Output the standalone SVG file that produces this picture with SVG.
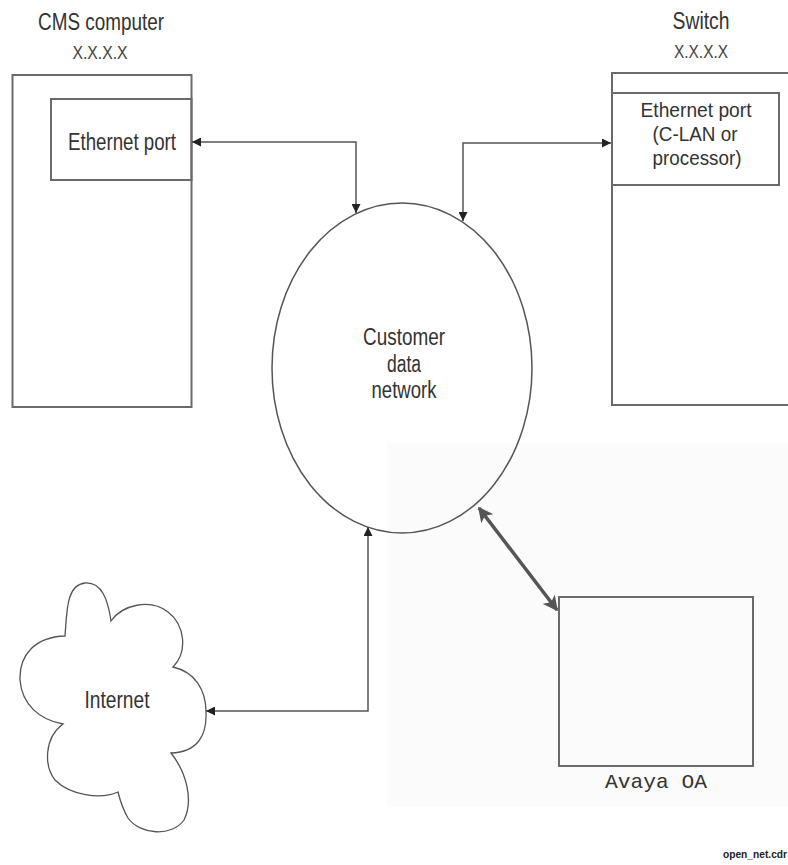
<svg xmlns="http://www.w3.org/2000/svg" width="788" height="865" viewBox="0 0 788 865">
  <style>
    .lbl { font-family: "Liberation Sans", Arial, sans-serif; font-size: 23px; fill: #333; text-anchor: middle; }
    .port { font-family: "Liberation Sans", Arial, sans-serif; font-size: 20.5px; fill: #333; text-anchor: middle; }
    .addr { font-family: "Liberation Sans", Arial, sans-serif; font-size: 19px; fill: #444; text-anchor: middle; }
    .mono { font-family: "Liberation Mono", "Courier New", monospace; font-size: 21px; fill: #333; text-anchor: middle; }
    .tag { font-family: "Liberation Sans", Arial, sans-serif; font-size: 10px; font-weight: bold; fill: #222; }
    .box { fill: none; stroke: #6a6a6a; stroke-width: 2; }
    .wire { fill: none; stroke: #555; stroke-width: 1.5; }
    .thick { fill: none; stroke: #555; stroke-width: 3.5; }
  </style>
  <defs>
    <marker id="ah" viewBox="0 0 10 10" refX="10" refY="5" markerWidth="11" markerHeight="9" markerUnits="userSpaceOnUse" orient="auto-start-reverse">
      <path d="M0,0 L10,5 L0,10 z" fill="#222"/>
    </marker>
    <marker id="ahBig" viewBox="0 0 10 10" refX="9" refY="5" markerWidth="17" markerHeight="15" markerUnits="userSpaceOnUse" orient="auto-start-reverse">
      <path d="M0,0 L10,5 L0,10 L2.5,5 z" fill="#555"/>
    </marker>
  </defs>

  <rect width="788" height="865" fill="#fff"/>
  <!-- faint shaded panel behind the lower right -->
  <rect x="387" y="443" width="401" height="364" fill="#fbfbfb"/>

  <g id="cms">
    <text class="lbl" x="101" y="30" textLength="126" lengthAdjust="spacingAndGlyphs">CMS computer</text>
    <text class="addr" x="100" y="59" textLength="55" lengthAdjust="spacingAndGlyphs">X.X.X.X</text>
    <rect class="box" x="12.5" y="75" width="179" height="332"/>
    <g id="cms-port">
      <rect class="box" x="51" y="99" width="140.5" height="81"/>
      <text class="lbl" x="122" y="150" textLength="108" lengthAdjust="spacingAndGlyphs">Ethernet port</text>
    </g>
  </g>

  <g id="switch">
    <text class="lbl" x="701" y="29" textLength="57" lengthAdjust="spacingAndGlyphs">Switch</text>
    <text class="addr" x="701" y="58" textLength="54" lengthAdjust="spacingAndGlyphs">X.X.X.X</text>
    <path class="box" d="M790,73 H612 V405 H790"/>
    <g id="switch-port">
      <rect class="box" x="612" y="93" width="167" height="92"/>
      <text class="port" x="696" y="117" textLength="111" lengthAdjust="spacingAndGlyphs">Ethernet port</text>
      <text class="port" x="695" y="141" textLength="85" lengthAdjust="spacingAndGlyphs">(C-LAN or</text>
      <text class="port" x="697" y="165" textLength="89" lengthAdjust="spacingAndGlyphs">processor)</text>
    </g>
  </g>

  <g id="network">
    <ellipse cx="402" cy="368" rx="130" ry="165" fill="none" stroke="#555" stroke-width="1.5"/>
    <text class="lbl" x="404" y="345" textLength="82" lengthAdjust="spacingAndGlyphs">Customer</text>
    <text class="lbl" x="404" y="372" textLength="34" lengthAdjust="spacingAndGlyphs">data</text>
    <text class="lbl" x="404" y="398" textLength="65" lengthAdjust="spacingAndGlyphs">network</text>
  </g>

  <g id="internet">
    <path fill="#fff" stroke="#555" stroke-width="1.3" d="M65,636 C67,612 66,585 85,583 C102,582 108,600 111,621 C122,605 150,598 168,612 C185,625 188,652 173,667 C195,672 206,690 206,712 C207,735 198,752 171,753 C186,772 194,800 184,820 C172,837 140,835 128,818 C122,808 120,800 118,792 C100,800 70,795 55,780 C44,766 44,738 63,724 C40,720 22,705 20,680 C19,655 35,637 65,636 Z"/>
    <text class="lbl" x="117" y="708" textLength="65" lengthAdjust="spacingAndGlyphs">Internet</text>
  </g>

  <g id="avaya-oa">
    <rect class="box" x="559" y="597" width="194" height="169"/>
    <text class="mono" x="656" y="788" textLength="102" lengthAdjust="spacingAndGlyphs">Avaya OA</text>
  </g>

  <g id="connectors">
    <path class="wire" d="M192,142 H356 V213" marker-start="url(#ah)" marker-end="url(#ah)"/>
    <path class="wire" d="M611,143 H463 V221" marker-start="url(#ah)" marker-end="url(#ah)"/>
    <path class="wire" d="M206,711 H368 V527" marker-start="url(#ah)" marker-end="url(#ah)"/>
    <path class="thick" d="M479,508 L557,610" marker-start="url(#ahBig)" marker-end="url(#ahBig)"/>
  </g>

  <text class="tag" x="723" y="858" textLength="64" lengthAdjust="spacingAndGlyphs">open_net.cdr</text>
</svg>
